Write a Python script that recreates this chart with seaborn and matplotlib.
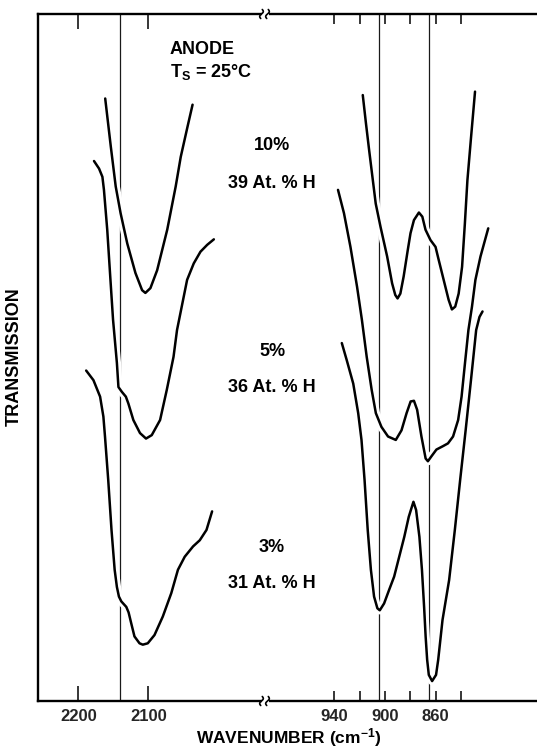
import numpy as np
import pandas as pd
import matplotlib
matplotlib.use("Agg")
import matplotlib.pyplot as plt
import matplotlib.patheffects as pe
from matplotlib.lines import Line2D
from matplotlib.patches import Rectangle
import seaborn as sns

# ---- Si-H stretching region (wavenumber in cm-1, transmission in arb. units) ----
stretch_10_wn = [2161.6, 2153.6, 2146.6, 2139.6, 2130.1, 2118.4, 2108.9, 2104.2, 2097.0,
                 2087.4, 2073.0, 2060.9, 2053.7, 2044.0, 2036.8]
stretch_10_t = [87.7, 80.7, 74.9, 71.0, 66.6, 62.3, 59.8, 59.4, 60.1,
                62.7, 68.6, 74.9, 79.2, 83.6, 86.8]

stretch_5_wn = [2177.6, 2170.4, 2165.6, 2163.4, 2158.7, 2154.1, 2150.4, 2144.9, 2142.7,
                2137.8, 2132.1, 2128.5, 2121.4, 2111.9, 2103.3, 2095.1, 2083.2, 2073.6,
                2064.0, 2059.0, 2044.6, 2035.1, 2025.5, 2015.9, 2006.4]
stretch_5_t = [78.6, 77.5, 76.3, 74.4, 68.6, 61.3, 55.5, 49.2, 45.7,
               45.0, 44.3, 43.3, 40.9, 39.0, 38.2, 38.7, 40.9, 45.3,
               50.1, 54.0, 61.3, 63.7, 65.4, 66.4, 67.2]

stretch_3_wn = [2188.8, 2178.4, 2168.9, 2164.2, 2161.9, 2157.3, 2152.6, 2148.1, 2144.9,
                2142.0, 2138.6, 2131.5, 2128.2, 2124.4, 2119.8, 2112.6, 2107.9, 2100.8,
                2091.2, 2079.3, 2067.2, 2057.7, 2048.0, 2036.1, 2026.5, 2016.9, 2008.9]
stretch_3_t = [48.1, 46.7, 44.3, 41.4, 38.5, 32.2, 24.9, 19.1, 16.6,
               15.2, 14.5, 13.7, 12.9, 11.3, 9.4, 8.4, 8.2, 8.4,
               9.6, 12.3, 15.7, 19.1, 21.0, 22.5, 23.4, 24.9, 27.6]

# ---- Si-H bending region ----
bend_10_wn = [917.5, 915.0, 912.5, 909.9, 907.3, 903.5, 898.3, 894.4, 891.9, 890.1, 887.9,
              885.3, 882.1, 879.9, 877.2, 873.3, 870.6, 868.1, 864.2, 860.2, 857.7, 853.8,
              849.9, 847.3, 844.7, 842.0, 839.3, 837.1, 835.1, 832.4, 829.1]
bend_10_t = [88.2, 84.1, 80.2, 76.3, 72.4, 69.0, 64.7, 60.8, 59.1, 58.6, 59.3,
             61.8, 65.6, 68.1, 70.0, 71.1, 70.5, 68.6, 67.1, 66.1, 64.2, 61.3,
             58.4, 57.0, 57.4, 59.3, 63.2, 69.5, 75.8, 81.7, 88.7]

bend_5_wn = [937.0, 932.3, 927.2, 922.0, 918.2, 914.4, 910.5, 907.2, 902.8, 897.6, 891.5,
             887.0, 883.0, 879.8, 877.2, 874.7, 871.3, 868.0, 866.2, 863.5, 859.5, 854.3,
             850.4, 846.4, 842.4, 839.7, 837.0, 834.3, 831.5, 828.8, 824.8, 818.7]
bend_5_t = [74.4, 71.0, 66.1, 60.3, 55.5, 50.1, 45.3, 41.9, 39.9, 38.5, 38.0,
            39.4, 41.9, 43.6, 43.7, 42.4, 38.5, 35.3, 34.9, 35.6, 36.6, 37.1,
            37.5, 38.5, 40.9, 44.3, 49.2, 54.0, 57.4, 61.3, 64.7, 68.8]

bend_3_wn = [934.0, 930.1, 925.0, 921.1, 918.5, 916.1, 913.6, 911.1, 908.6, 906.0, 904.1,
             900.7, 896.7, 892.8, 888.8, 884.8, 881.3, 877.6, 875.5, 872.9, 870.9, 869.2,
             868.0, 866.8, 865.5, 862.9, 859.8, 858.1, 854.7, 849.5, 845.0, 840.8, 836.5,
             832.3, 828.2, 825.6, 823.2]
bend_3_t = [52.1, 49.6, 46.2, 41.9, 38.0, 32.2, 24.9, 19.1, 15.2, 13.5, 13.2,
            14.2, 16.2, 18.1, 21.0, 23.9, 26.8, 29.0, 27.8, 23.9, 19.1, 13.7,
            9.4, 6.0, 3.8, 2.9, 3.8, 6.0, 11.8, 17.6, 24.9, 32.2, 39.4,
            46.7, 54.0, 55.9, 56.7]

# band markers
stretch_bands = [2140]
bend_bands = [905, 865]

# axis ticks
stretch_ticks = [2200, 2100]
bend_ticks = [940, 920, 900, 880, 860, 840]
bend_tick_labels = ["940", "", "900", "", "860", ""]

# sample annotations
dilution_labels = ["10%", "5%", "3%"]
hydrogen_labels = ["39 At. % H", "36 At. % H", "31 At. % H"]

sns.set_theme(style="white")
plt.rcParams["font.family"] = ["Liberation Sans", "DejaVu Sans"]
plt.rcParams["font.weight"] = "bold"
plt.rcParams["mathtext.fontset"] = "custom"
plt.rcParams["mathtext.rm"] = "Liberation Sans:bold"
plt.rcParams["mathtext.bf"] = "Liberation Sans:bold"
plt.rcParams["mathtext.it"] = "Liberation Sans:bold"

W, H = 537, 748
fig = plt.figure(figsize=(W / 100, H / 100), dpi=100)
fig.patch.set_facecolor("white")

x_left, x_break, top_px, bot_px = 38, 266, 14, 701


def fx(px):
    return px / W


def fy(py):
    return 1 - py / H


axL = fig.add_axes([fx(x_left), fy(bot_px), (x_break - x_left) / W, (bot_px - top_px) / H])
axR = fig.add_axes([fx(x_break), fy(bot_px), (W - x_break) / W, (bot_px - top_px) / H],
                   sharey=axL)

halo = [pe.withStroke(linewidth=6, foreground="white")]

stretch = pd.DataFrame({
    "wn": stretch_10_wn + stretch_5_wn + stretch_3_wn,
    "t": stretch_10_t + stretch_5_t + stretch_3_t,
    "sample": ["10%"] * len(stretch_10_wn) + ["5%"] * len(stretch_5_wn) + ["3%"] * len(stretch_3_wn),
})
bend = pd.DataFrame({
    "wn": bend_10_wn + bend_5_wn + bend_3_wn,
    "t": bend_10_t + bend_5_t + bend_3_t,
    "sample": ["10%"] * len(bend_10_wn) + ["5%"] * len(bend_5_wn) + ["3%"] * len(bend_3_wn),
})

for ax, df, bands in ((axL, stretch, stretch_bands), (axR, bend, bend_bands)):
    for b in bands:
        ax.axvline(b, color="#1a1a1a", lw=0.9, zorder=1)
    for name, sub in df.groupby("sample", sort=False):
        sns.lineplot(data=sub, x="wn", y="t", sort=False, estimator=None, ax=ax,
                     color="black", lw=1.8, zorder=3, path_effects=halo, legend=False)
    ax.set_xlabel("")
    ax.set_ylabel("")
    ax.set_yticks([])
    ax.set_facecolor("white")
    for s in ax.spines.values():
        s.set_linewidth(1.7)
        s.set_color("black")

axL.set_xlim(2257.6, 1931.9)
axR.set_xlim(993.7, 780.3)
axL.set_ylim(0, 100)

axL.spines["right"].set_visible(False)
axR.spines["left"].set_visible(False)
axR.spines["right"].set_visible(False)

axL.set_xticks(stretch_ticks)
axL.set_xticklabels([str(v) for v in stretch_ticks])
axL.tick_params(axis="x", which="major", direction="in", length=11, width=1.1,
                top=True, bottom=True, labelsize=12, pad=6, color="black")

axR.set_xticks(bend_ticks)
axR.set_xticklabels(bend_tick_labels)
axR.set_xticks([900], minor=True)
axR.tick_params(axis="x", which="major", direction="in", length=7.5, width=1.1,
                top=True, bottom=True, labelsize=12, pad=6, color="black")
axR.tick_params(axis="x", which="minor", direction="in", length=11.5, width=1.1,
                top=True, bottom=True, color="black")
for ax in (axL, axR):
    for lab in ax.get_xticklabels():
        lab.set_fontweight("bold")

# axis break symbols on the top and bottom frame lines
for py in (top_px, bot_px):
    fig.patches.append(Rectangle((fx(261.5), fy(py) - 3 / H), 7 / W, 6 / H,
                                 transform=fig.transFigure, facecolor="white",
                                 edgecolor="none", zorder=10))
    t = np.linspace(-1, 1, 15)
    for x0 in (261.5, 267.5):
        xs = x0 + 1.4 * np.sin(np.pi * t) + 0.8 * t
        ys = py - 4.5 * t
        fig.lines.append(Line2D(fx(xs), fy(ys), transform=fig.transFigure,
                                color="black", lw=1.2, zorder=11))

# annotations
txt = dict(fontsize=13, fontweight="bold", color="black")
fig.text(fx(170), fy(49), "ANODE", ha="left", va="center", fontsize=13,
         fontweight="bold", color="black",
         family=["Liberation Sans Narrow", "Liberation Sans", "DejaVu Sans"])
fig.text(fx(170), fy(72), r"T$_{\mathbf{S}}$ = 25°C", ha="left", va="center", **txt)
for d, h, py in zip(dilution_labels, hydrogen_labels, (146, 351, 547)):
    fig.text(fx(272), fy(py), d, ha="center", va="center", **txt)
    fig.text(fx(272), fy(py + 37), h, ha="center", va="center", **txt)

fig.text(fx(14), fy(357), "TRANSMISSION", rotation=90, ha="center", va="center", **txt)
fig.text(fx(289), fy(738), r"WAVENUMBER (cm$^{\mathbf{-1}}$)", ha="center", va="center",
         fontsize=12.5, fontweight="bold", color="black")

fig.savefig("out.png", dpi=100, facecolor="white")
